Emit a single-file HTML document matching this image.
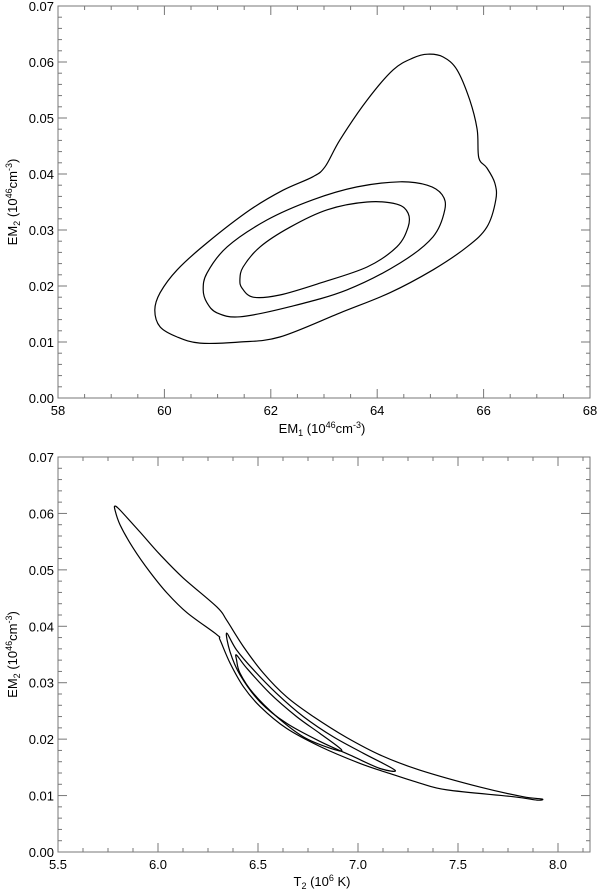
<!DOCTYPE html>
<html><head><meta charset="utf-8">
<style>
html,body{margin:0;padding:0;background:#fff;}
svg{display:block;font-family:"Liberation Sans",Arial,sans-serif;}
</style></head>
<body>
<svg id="chart" width="600" height="891" viewBox="0 0 600 891" xmlns="http://www.w3.org/2000/svg"></svg>
<script>
// Top panel data: EM1 vs EM2 confidence contours
const topXTicks = ["58","60","62","64","66","68"];
const topYTicks = ["0.00","0.01","0.02","0.03","0.04","0.05","0.06","0.07"];
const topOuterX = [59.82,59.92,60.24,60.80,61.61,62.23,62.79,63.02,63.30,63.81,64.30,64.67,64.95,65.24,65.50,65.74,65.88,65.91,66.06,66.21,66.23,66.06,65.69,65.05,64.24,63.30,62.17,61.42,60.67,60.24,59.92];
const topOuterY = [0.0157,0.0188,0.0229,0.0277,0.0336,0.0371,0.0395,0.0413,0.0461,0.0532,0.0586,0.0607,0.0614,0.0609,0.0586,0.0532,0.0479,0.0429,0.0411,0.0384,0.0354,0.0305,0.0270,0.0229,0.0188,0.0152,0.0109,0.0100,0.0098,0.0109,0.0127];
const topMidX = [60.73,60.80,61.18,61.93,62.79,63.62,64.43,64.94,65.22,65.27,65.05,64.43,63.43,62.36,61.42,60.99,60.80];
const topMidY = [0.0193,0.0223,0.0270,0.0318,0.0354,0.0377,0.0386,0.0380,0.0363,0.0336,0.0288,0.0241,0.0193,0.0163,0.0145,0.0152,0.0170];
const topInX = [61.42,61.48,61.80,62.36,63.06,63.81,64.37,64.58,64.58,64.37,63.81,62.92,62.17,61.67,61.46];
const topInY = [0.0211,0.0234,0.0270,0.0305,0.0336,0.0350,0.0346,0.0330,0.0305,0.0270,0.0234,0.0205,0.0184,0.0180,0.0196];
// Bottom panel data: T2 vs EM2
const botXTicks = ["5.5","6.0","6.5","7.0","7.5","8.0"];
const botYTicks = ["0.00","0.01","0.02","0.03","0.04","0.05","0.06","0.07"];
const botOuterX = [5.785,5.810,5.910,6.010,6.125,6.295,6.343,6.427,6.527,6.643,6.777,6.943,7.110,7.310,7.610,7.825,7.920,7.895,7.775,7.445,7.310,7.177,7.010,6.810,6.643,6.510,6.427,6.360,6.310,6.295,6.145,6.045,5.960,5.875,5.810,5.785];
const botOuterY = [0.0613,0.0606,0.0567,0.0527,0.0486,0.0434,0.0411,0.0364,0.0317,0.0275,0.0240,0.0203,0.0172,0.0145,0.0115,0.0098,0.0094,0.0092,0.0098,0.0110,0.0122,0.0137,0.0157,0.0187,0.0219,0.0258,0.0293,0.0335,0.0376,0.0385,0.0424,0.0459,0.0496,0.0539,0.0580,0.0606];
const botMidX = [6.343,6.393,6.477,6.593,6.727,6.877,7.027,7.185,7.110,6.977,6.810,6.643,6.510,6.410,6.360];
const botMidY = [0.0388,0.0358,0.0323,0.0281,0.0240,0.0204,0.0175,0.0145,0.0148,0.0169,0.0196,0.0228,0.0266,0.0314,0.0355];
const botInX = [6.393,6.443,6.560,6.693,6.810,6.918,6.860,6.727,6.593,6.477,6.410,6.393];
const botInY = [0.0349,0.0326,0.0281,0.0240,0.0210,0.0181,0.0184,0.0204,0.0240,0.0281,0.0317,0.0340];

const NS="http://www.w3.org/2000/svg";
const svg=document.getElementById('chart');
function mk(tag,attrs,parent){const e=document.createElementNS(NS,tag);for(const k in attrs)e.setAttribute(k,attrs[k]);(parent||svg).appendChild(e);return e;}

function smoothClosed(P){
  const n=P.length;let d='M'+P[0][0].toFixed(1)+','+P[0][1].toFixed(1);
  for(let i=0;i<n;i++){
    const p0=P[(i-1+n)%n],p1=P[i],p2=P[(i+1)%n],p3=P[(i+2)%n];
    const c1=[p1[0]+(p2[0]-p0[0])/6,p1[1]+(p2[1]-p0[1])/6];
    const c2=[p2[0]-(p3[0]-p1[0])/6,p2[1]-(p3[1]-p1[1])/6];
    d+='C'+c1[0].toFixed(1)+','+c1[1].toFixed(1)+' '+c2[0].toFixed(1)+','+c2[1].toFixed(1)+' '+p2[0].toFixed(1)+','+p2[1].toFixed(1);
  }
  return d+'Z';
}

function panel(cfg){
  const g=mk('g',{});
  
  
  const L=58,R=590,T=cfg.top,B=cfg.bottom;
  const sx=v=>L+(v-cfg.xmin)/(cfg.xmax-cfg.xmin)*(R-L);
  const sy=v=>B-(v-cfg.ymin)/(cfg.ymax-cfg.ymin)*(B-T);
  const frame=mk('rect',{x:L,y:T,width:R-L,height:B-T,fill:'none',stroke:'#777','stroke-width':1},g);
  
  
  const nx=cfg.xTicks.length;
  for(let i=0;i<nx;i++){
    const v=cfg.xmin+i*cfg.xstep;
    const x=sx(v);
    mk('line',{x1:x,y1:B,x2:x,y2:B-9,stroke:'#777'},g);
    mk('line',{x1:x,y1:T,x2:x,y2:T+9,stroke:'#777'},g);
    const t=mk('text',{x:x,y:cfg.xlabY,'text-anchor':'middle','font-size':13,fill:'#000'},g);
    t.textContent=cfg.xTicks[i];
    
    
    if(i<nx-1){for(let m=1;m<4;m++){const xm=sx(v+m*cfg.xstep/4);
      mk('line',{x1:xm,y1:B,x2:xm,y2:B-4,stroke:'#777'},g);
      mk('line',{x1:xm,y1:T,x2:xm,y2:T+4,stroke:'#777'},g);}}
  }
  let vv=cfg.xmin+(nx-1)*cfg.xstep+cfg.xstep/4;
  while(vv<cfg.xmax-1e-9){const xm=sx(vv);mk('line',{x1:xm,y1:B,x2:xm,y2:B-4,stroke:'#777'},g);mk('line',{x1:xm,y1:T,x2:xm,y2:T+4,stroke:'#777'},g);vv+=cfg.xstep/4;}
  const ny=cfg.yTicks.length;
  for(let i=0;i<ny;i++){
    const v=cfg.ymin+i*0.01;const y=sy(v);
    mk('line',{x1:L,y1:y,x2:L+9,y2:y,stroke:'#777'},g);
    mk('line',{x1:R,y1:y,x2:R-9,y2:y,stroke:'#777'},g);
    const t=mk('text',{x:L-4,y:y+5,'text-anchor':'end','font-size':13,fill:'#000'},g);
    t.textContent=cfg.yTicks[i];
    
    
    if(i<ny-1){for(let m=1;m<5;m++){const ym=sy(v+m*0.002);
      mk('line',{x1:L,y1:ym,x2:L+4,y2:ym,stroke:'#777'},g);
      mk('line',{x1:R,y1:ym,x2:R-4,y2:ym,stroke:'#777'},g);}}
  }
  cfg.series.forEach((s,idx)=>{
    const P=s[0].map((x,i)=>[sx(x),sy(s[1][i])]);
    const p=mk('path',{d:smoothClosed(P),fill:'none',stroke:'#000','stroke-width':1.2,'stroke-linejoin':'round'},g);
    
    
  });
  const xt=mk('text',{x:cfg.xtitleX,y:cfg.xtitleY,'text-anchor':'middle','font-size':13,fill:'#000'},g);
  xt.innerHTML=cfg.xtitle;
  
  
  const cy=(T+B)/2;
  const yt=mk('text',{x:0,y:0,'text-anchor':'middle','font-size':13,fill:'#000',transform:'translate(17,'+cy+') rotate(-90)'},g);
  yt.innerHTML='EM<tspan font-size="9" dy="3">2</tspan><tspan dy="-3"> (10</tspan><tspan font-size="9" dy="-5">46</tspan><tspan dy="5">cm</tspan><tspan font-size="9" dy="-5">-3</tspan><tspan dy="5">)</tspan>';
  
  
}

panel({name:'em1-em2-panel',top:6,bottom:398,xmin:58,xmax:68,xstep:2,ymin:0,ymax:0.07,
  xTicks:topXTicks,yTicks:topYTicks,xlabY:415,xtitleX:322,xtitleY:433,
  xtitle:'EM<tspan font-size="9" dy="3">1</tspan><tspan dy="-3"> (10</tspan><tspan font-size="9" dy="-5">46</tspan><tspan dy="5">cm</tspan><tspan font-size="9" dy="-5">-3</tspan><tspan dy="5">)</tspan>',
  series:[[topOuterX,topOuterY],[topMidX,topMidY],[topInX,topInY]]});
panel({name:'t2-em2-panel',top:457,bottom:852,xmin:5.5,xmax:8.16,xstep:0.5,ymin:0,ymax:0.07,
  xTicks:botXTicks,yTicks:botYTicks,xlabY:869,xtitleX:322,xtitleY:886,
  xtitle:'T<tspan font-size="9" dy="3">2</tspan><tspan dy="-3"> (10</tspan><tspan font-size="9" dy="-5">6</tspan><tspan dy="5"> K)</tspan>',
  series:[[botOuterX,botOuterY],[botMidX,botMidY],[botInX,botInY]]});
</script>
</body></html>
